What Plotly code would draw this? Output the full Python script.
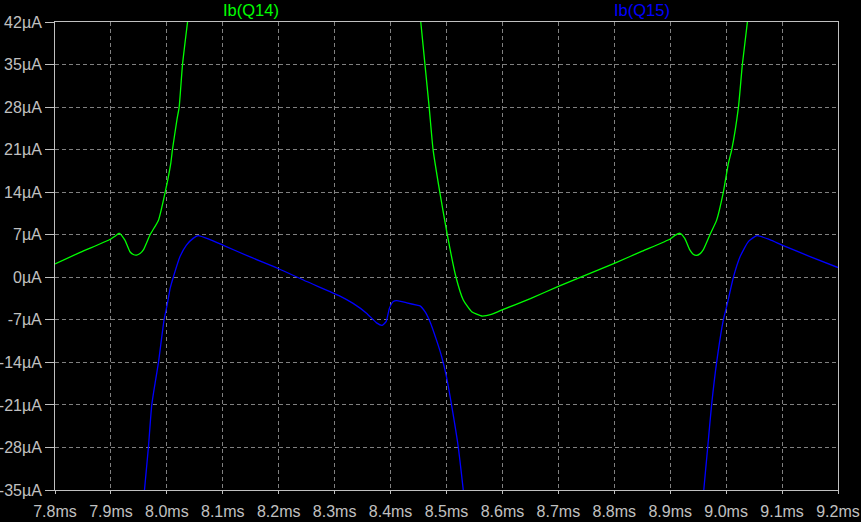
import plotly.graph_objects as go

# Time axis in ms, currents in µA
q14_t = [7.800, 7.845, 7.900, 7.908, 7.915, 7.925, 7.934, 7.940, 7.946, 7.952, 7.958,
         7.970, 7.985, 7.997, 8.007, 8.010, 8.018, 8.022, 8.028, 8.037,
         None,
         8.454, 8.4615, 8.469, 8.476, 8.488, 8.5014, 8.517, 8.530, 8.545, 8.563, 8.580,
         8.596, 8.650, 8.700, 8.750, 8.800, 8.850, 8.900, 8.9085, 8.9175, 8.926, 8.935,
         8.941, 8.947, 8.953, 8.959, 8.971, 8.983, 8.995, 9.004, 9.010, 9.022, 9.029, 9.038]
q14_i = [2.2, 4.1, 6.3, 6.8, 7.24, 6.1, 4.2, 3.75, 3.66, 3.9, 4.5,
         7.0, 9.4, 14.0, 18.75, 21.0, 25.9, 28.0, 35.0, 42.0,
         None,
         42.0, 35.0, 28.0, 21.0, 14.0, 7.0, 0.0, -3.74, -5.66, -6.37, -6.1,
         -5.5, -3.5, -1.5, 0.4, 2.3, 4.3, 6.3, 6.9, 7.24, 6.4, 4.5,
         3.8, 3.6, 3.85, 4.5, 7.0, 9.4, 14.0, 18.75, 21.0, 28.0, 35.0, 42.0]

q15_t = [7.960, 7.967, 7.973, 7.979, 7.985, 7.995, 8.000, 8.006, 8.0115, 8.0235, 8.035,
         8.047, 8.056, 8.077, 8.100, 8.150, 8.200, 8.250, 8.3096, 8.333, 8.357, 8.375,
         8.385, 8.392, 8.398, 8.405, 8.411, 8.429, 8.447, 8.4526, 8.4615, 8.4705, 8.482,
         8.4914, 8.500, 8.509, 8.521, 8.530,
         None,
         8.960, 8.967, 8.974, 8.983, 8.995, 9.001, 9.013, 9.025, 9.040, 9.055, 9.078,
         9.100, 9.150, 9.200]
q15_i = [-35.0, -28.0, -21.0, -17.4, -14.0, -7.0, -4.8, -1.8, 0.0, 3.4, 5.3,
         6.4, 6.85, 6.2, 5.3, 3.3, 1.4, -0.7, -3.1, -4.3, -5.9, -7.5,
         -7.9, -7.3, -5.1, -4.0, -3.85, -4.2, -4.6, -4.7, -5.66, -7.3, -10.3,
         -13.07, -16.4, -21.0, -27.9, -35.0,
         None,
         -35.0, -28.0, -21.0, -14.0, -7.0, -4.8, 0.0, 3.4, 5.9, 6.85, 6.2,
         5.3, 3.4, 1.6]

x_ticks = [7.8, 7.9, 8.0, 8.1, 8.2, 8.3, 8.4, 8.5, 8.6, 8.7, 8.8, 8.9, 9.0, 9.1, 9.2]
x_labels = ["7.8ms", "7.9ms", "8.0ms", "8.1ms", "8.2ms", "8.3ms", "8.4ms", "8.5ms",
            "8.6ms", "8.7ms", "8.8ms", "8.9ms", "9.0ms", "9.1ms", "9.2ms"]
y_ticks = [42, 35, 28, 21, 14, 7, 0, -7, -14, -21, -28, -35]
y_labels = ["42µA", "35µA", "28µA", "21µA", "14µA", "7µA", "0µA", "-7µA",
            "-14µA", "-21µA", "-28µA", "-35µA"]

GREEN = "#00ff00"
BLUE = "#0000ff"
AXIS = "#c0c0c0"
GRID = "#808080"
FONT = "Liberation Sans, Arial, sans-serif"

fig = go.Figure()
fig.add_trace(go.Scatter(x=q14_t, y=q14_i, mode="lines", name="Ib(Q14)",
                         line=dict(color=GREEN, width=1.3, shape="spline", smoothing=0.5),
                         connectgaps=False))
fig.add_trace(go.Scatter(x=q15_t, y=q15_i, mode="lines", name="Ib(Q15)",
                         line=dict(color=BLUE, width=1.3, shape="spline", smoothing=0.5),
                         connectgaps=False))

fig.update_layout(
    width=861, height=522,
    paper_bgcolor="black", plot_bgcolor="black",
    margin=dict(l=55, r=23, t=22, b=32, pad=0, autoexpand=False),
    showlegend=False,
    font=dict(family=FONT, size=16, color=AXIS),
    xaxis=dict(range=[7.8, 9.2], tickvals=x_ticks, ticktext=x_labels,
               showgrid=True, gridcolor=GRID, gridwidth=1, griddash="4px,3px",
               zeroline=False, showline=True, linecolor=AXIS, linewidth=1,
               mirror=True, ticks="outside", ticklen=3, tickcolor=AXIS,
               ticklabelstandoff=4, automargin=False,
               tickfont=dict(family=FONT, size=16, color=AXIS)),
    yaxis=dict(range=[-35, 42], tickvals=y_ticks, ticktext=y_labels,
               showgrid=True, gridcolor=GRID, gridwidth=1, griddash="4px,3px",
               zeroline=False, showline=True, linecolor=AXIS, linewidth=1,
               mirror=True, ticks="outside", ticklen=9, tickcolor=AXIS,
               automargin=False,
               tickfont=dict(family=FONT, size=16, color=AXIS)),
    xaxis2=dict(range=[7.8, 9.2], tickvals=x_ticks, overlaying="x", side="top",
                showticklabels=False, showgrid=False, zeroline=False,
                ticks="inside", ticklen=3, tickcolor=AXIS, anchor="y",
                automargin=False),
)

fig.add_annotation(text="Ib(Q14)", xref="paper", yref="paper", x=0.25, y=1.0246,
                   xanchor="center", yanchor="middle", showarrow=False,
                   font=dict(family=FONT, size=16.5, color=GREEN))
fig.add_annotation(text="Ib(Q15)", xref="paper", yref="paper", x=0.75, y=1.0246,
                   xanchor="center", yanchor="middle", showarrow=False,
                   font=dict(family=FONT, size=16.5, color=BLUE))

fig.write_html("out.html", config={"displayModeBar": False},
               post_script="document.body.style.margin='0px';")
